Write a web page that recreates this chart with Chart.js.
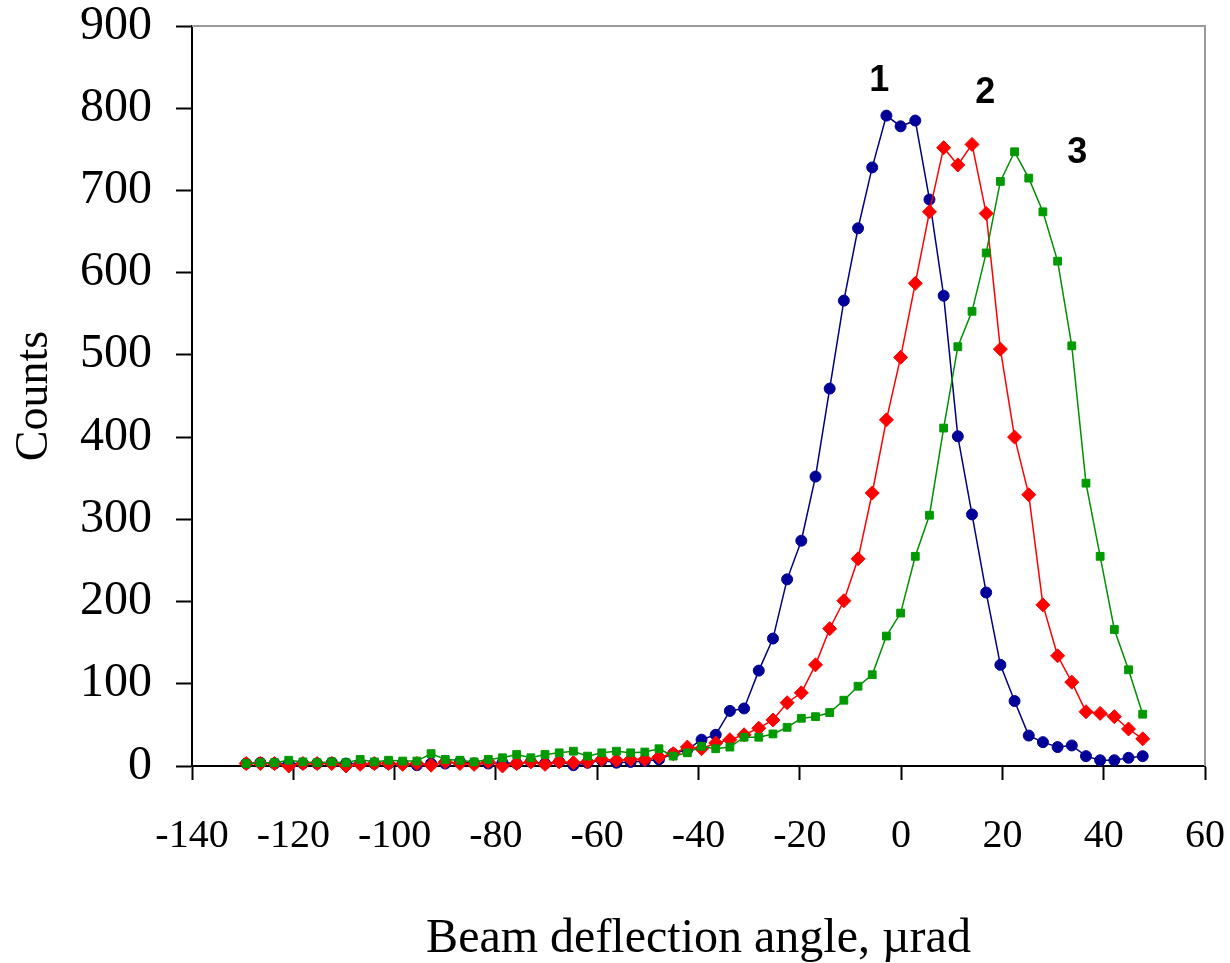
<!DOCTYPE html>
<html>
<head>
<meta charset="utf-8">
<script src="https://cdn.jsdelivr.net/npm/chart.js@4.4.1/dist/chart.umd.min.js"></script>
<style>
  html, body { margin: 0; padding: 0; background: #ffffff; }
  #wrap { width: 1230px; height: 963px; }
</style>
</head>
<body>
<div id="wrap"><canvas id="beam" width="1230" height="963"></canvas></div>
<script>
// Beam deflection angle, urad (same grid for all three curves)
var angles = [
    -129.3, -126.5, -123.7, -120.9, -118.1, -115.3, -112.4, -109.6, -106.8, -104.0,
    -101.2, -98.4, -95.6, -92.8, -90.0, -87.1, -84.3, -81.5, -78.7, -75.9,
    -73.1, -70.3, -67.5, -64.7, -61.9, -59.1, -56.2, -53.4, -50.6, -47.8,
    -45.0, -42.2, -39.4, -36.6, -33.8, -31.0, -28.1, -25.3, -22.5, -19.7,
    -16.9, -14.1, -11.3, -8.5, -5.7, -2.9, -0.1, 2.8, 5.6, 8.4,
    11.2, 14.0, 16.8, 19.6, 22.4, 25.2, 28.0, 30.9, 33.7, 36.5,
    39.3, 42.1, 44.9, 47.7
];

// Counts, curve 1
var counts1 = [
    3, 4, 3, 3, 3, 3, 4, 3, 3, 3,
    3, 3, 1, 3, 3, 5, 3, 3, 4, 3,
    5, 3, 5, 1, 4, 7, 4, 5, 6, 8,
    15, 20, 32, 38, 67, 70, 116, 155, 227, 274,
    352, 459, 566, 654, 728, 791, 778, 785, 689, 572,
    401, 306, 211, 123, 79, 37, 29, 23, 25, 12,
    7, 7, 10, 12
];

// Counts, curve 2
var counts2 = [
    3, 3, 3, 0, 3, 3, 3, 0, 2, 3,
    3, 2, 3, 1, 5, 3, 2, 5, 0, 3,
    5, 2, 5, 4, 5, 8, 7, 8, 8, 11,
    15, 23, 21, 28, 32, 38, 46, 56, 77, 89,
    123, 167, 201, 252, 332, 421, 497, 587, 674, 752,
    731, 756, 672, 507, 400, 330, 196, 134, 102, 66,
    64, 60, 45, 33
];

// Counts, curve 3
var counts3 = [
    3, 4, 4, 7, 5, 4, 5, 4, 8, 5,
    7, 6, 6, 15, 8, 7, 5, 8, 10, 14,
    10, 14, 16, 18, 12, 16, 18, 16, 17, 21,
    12, 16, 24, 21, 23, 35, 35, 39, 47, 58,
    60, 65, 80, 97, 111, 158, 186, 255, 305, 411,
    510, 553, 624, 711, 747, 715, 674, 614, 511, 344,
    255, 166, 117, 63
];

// Curve numbers written next to the peaks
var curveNames = ['1', '2', '3'];
var curveNameX = [-4.3, 16.6, 34.8];
var curveNameY = [833, 819, 746];

function toPoints(xs, ys) {
    var pts = [];
    for (var i = 0; i < xs.length; i++) {
        pts.push({ x: xs[i], y: ys[i] });
    }
    return pts;
}

// gray frame on top and right, plus the curve numbers
var framePlugin = {
    id: 'frame',
    beforeDatasetsDraw: function (chart) {
        var a = chart.chartArea;
        var ctx = chart.ctx;
        ctx.save();
        ctx.strokeStyle = '#9a9a9a';
        ctx.lineWidth = 2;
        ctx.beginPath();
        ctx.moveTo(a.left, a.top);
        ctx.lineTo(a.right, a.top);
        ctx.lineTo(a.right, a.bottom);
        ctx.stroke();
        ctx.restore();
    },
    afterDatasetsDraw: function (chart) {
        var ctx = chart.ctx;
        var xs = chart.scales.x, ys = chart.scales.y;
        ctx.save();
        ctx.fillStyle = '#000000';
        ctx.font = 'bold 36px "Liberation Sans", Arial, sans-serif';
        ctx.textAlign = 'center';
        ctx.textBaseline = 'middle';
        for (var i = 0; i < curveNames.length; i++) {
            ctx.fillText(curveNames[i], xs.getPixelForValue(curveNameX[i]), ys.getPixelForValue(curveNameY[i]));
        }
        ctx.restore();
    }
};

var serif = '"Liberation Serif", "Times New Roman", serif';

var ctx = document.getElementById('beam').getContext('2d');
var beamChart = new Chart(ctx, {
    type: 'line',
    data: {
        datasets: [{
            label: '1',
            data: toPoints(angles, counts1),
            borderColor: '#000080',
            backgroundColor: '#000099',
            pointBorderColor: '#000099',
            pointStyle: 'circle',
            pointRadius: 5.5,
            borderWidth: 1.5,
            order: 3,
            clip: false
        }, {
            label: '2',
            data: toPoints(angles, counts2),
            borderColor: '#ff0000',
            backgroundColor: '#ff0000',
            pointBorderColor: '#ff0000',
            pointStyle: 'rectRot',
            pointRadius: 7,
            borderWidth: 1.5,
            order: 2,
            clip: false
        }, {
            label: '3',
            data: toPoints(angles, counts3),
            borderColor: '#009000',
            backgroundColor: '#009a00',
            pointBorderColor: '#009a00',
            pointStyle: 'rect',
            pointRadius: 5.5,
            borderWidth: 1.5,
            order: 1,
            clip: false
        }]
    },
    options: {
        responsive: false,
        devicePixelRatio: 1,
        animation: false,
        layout: { padding: { left: 0, top: 26, right: 25, bottom: 0 } },
        plugins: {
            legend: { display: false },
            tooltip: { enabled: false }
        },
        elements: {
            line: { tension: 0, fill: false },
            point: { pointBorderWidth: 1 }
        },
        scales: {
            x: {
                type: 'linear',
                min: -140,
                max: 60,
                afterFit: function (scale) {
                    scale.height = 197;
                    scale.paddingLeft = 0;
                    scale.paddingRight = 0;
                },
                ticks: {
                    stepSize: 20,
                    color: '#000000',
                    padding: 36,
                    maxRotation: 0,
                    autoSkip: false,
                    font: { family: serif, size: 40, lineHeight: 1 }
                },
                grid: {
                    drawOnChartArea: false,
                    drawTicks: true,
                    tickLength: 14,
                    tickWidth: 2,
                    color: '#000000'
                },
                border: { display: true, color: '#000000', width: 2 },
                title: {
                    display: true,
                    text: 'Beam deflection angle, \u00b5rad',
                    color: '#000000',
                    padding: { top: 0, bottom: 0 },
                    font: { family: serif, size: 48, lineHeight: 1 }
                }
            },
            y: {
                min: 0,
                max: 900,
                afterFit: function (scale) {
                    scale.width = 192;
                    scale.paddingTop = 0;
                    scale.paddingBottom = 0;
                },
                ticks: {
                    stepSize: 100,
                    color: '#000000',
                    padding: 24,
                    font: { family: serif, size: 48, lineHeight: 1 }
                },
                grid: {
                    drawOnChartArea: false,
                    drawTicks: true,
                    tickLength: 16,
                    tickWidth: 2,
                    color: '#000000'
                },
                border: { display: true, color: '#000000', width: 2 },
                title: {
                    display: true,
                    text: 'Counts',
                    color: '#000000',
                    padding: { top: 12, bottom: 0 },
                    font: { family: serif, size: 46, lineHeight: 1 }
                }
            }
        }
    },
    plugins: [framePlugin]
});
</script>
</body>
</html>
